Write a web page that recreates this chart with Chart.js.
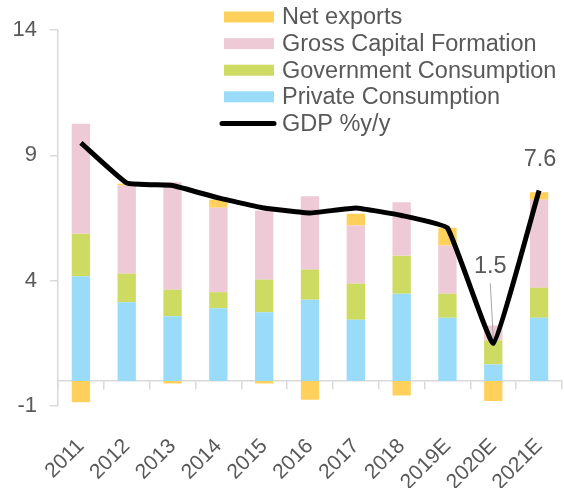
<!DOCTYPE html>
<html>
<head>
<meta charset="utf-8">
<script src="https://cdn.jsdelivr.net/npm/chart.js@4.4.1/dist/chart.umd.min.js"></script>
<style>
  html, body { margin: 0; padding: 0; background: #fff; }
  #wrap { width: 564px; height: 488px; }
</style>
</head>
<body>
<div id="wrap"><canvas id="gdp"></canvas></div>
<script>
// contributions to GDP growth, percentage points
const years = ['2011', '2012', '2013', '2014', '2015', '2016', '2017', '2018', '2019E', '2020E', '2021E'];
const privateCons = [4.18, 3.14, 2.58, 2.90, 2.74, 3.24, 2.44, 3.48, 2.52, 0.66, 2.52];
const govCons = [1.69, 1.14, 1.06, 0.64, 1.30, 1.20, 1.44, 1.51, 0.96, 0.96, 1.20];
const capForm = [4.39, 3.52, 4.29, 3.37, 2.76, 2.93, 2.32, 2.14, 1.92, 0.59, 3.51];
const netExports = [-0.85, 0.07, -0.10, 0.32, -0.10, -0.75, 0.47, -0.58, 0.71, -0.80, 0.30];
const gdp = [9.5, 7.9, 7.8, 7.3, 6.9, 6.7, 6.9, 6.6, 6.1, 1.5, 7.6];
const yTicks = [-1, 4, 9, 14];
const labelledPoints = [9, 10];

const textGrey = '#595959';
const axisGrey = '#d9d9d9';
Chart.defaults.font.family = '"Liberation Sans", Arial, sans-serif';

// legend sits inside the plot, top right, bars listed top-down
const legendPlugin = {
  id: 'insideLegend',
  afterDraw(chart) {
    const ctx = chart.ctx;
    const sets = chart.data.datasets;
    const items = sets.filter(d => d.type !== 'line').reverse()
      .concat(sets.filter(d => d.type === 'line'));
    const x = 224, top = 17, row = 26.6, w = 50, h = 11;
    ctx.save();
    ctx.font = '23.5px "Liberation Sans", Arial, sans-serif';
    ctx.textBaseline = 'middle';
    items.forEach((d, i) => {
      const cy = top + i * row;
      if (d.type === 'line') {
        ctx.strokeStyle = d.borderColor;
        ctx.lineWidth = 5;
        ctx.lineCap = 'round';
        ctx.beginPath();
        ctx.moveTo(x - 2, cy);
        ctx.lineTo(x + w, cy);
        ctx.stroke();
      } else {
        ctx.fillStyle = d.backgroundColor;
        ctx.fillRect(x, cy - h / 2, w, h);
      }
      ctx.fillStyle = textGrey;
      ctx.fillText(d.label, x + w + 8, cy + 1);
    });
    ctx.restore();
  }
};

// value labels on the last two GDP points, 2020E pulled up with a leader line
const pointLabelPlugin = {
  id: 'gdpLabels',
  afterDatasetsDraw(chart) {
    const ctx = chart.ctx;
    const idx = chart.data.datasets.findIndex(d => d.type === 'line');
    const meta = chart.getDatasetMeta(idx);
    ctx.save();
    ctx.font = '23.5px "Liberation Sans", Arial, sans-serif';
    ctx.textAlign = 'center';
    ctx.textBaseline = 'middle';
    labelledPoints.forEach(i => {
      const pt = meta.data[i];
      const lifted = i === 9;
      const tx = pt.x + (lifted ? -3 : 1);
      const ty = pt.y + (lifted ? -77 : -31);
      if (lifted) {
        ctx.strokeStyle = '#a6a6a6';
        ctx.lineWidth = 1;
        ctx.beginPath();
        ctx.moveTo(tx, ty + 17);
        ctx.lineTo(pt.x, pt.y - 5);
        ctx.stroke();
      }
      ctx.fillStyle = textGrey;
      ctx.fillText(gdp[i].toFixed(1), tx, ty);
    });
    ctx.restore();
  }
};

const cfg = {
  type: 'bar',
  data: {
    labels: years,
    datasets: [
      { type: 'line', label: 'GDP %y/y', data: gdp, borderColor: '#000000', borderWidth: 5,
        pointRadius: 0, tension: 0.1, order: 0, stack: 'gdp' },
      { label: 'Private Consumption', data: privateCons, backgroundColor: '#99dbf8', order: 1 },
      { label: 'Government Consumption', data: govCons, backgroundColor: '#cddb63', order: 1 },
      { label: 'Gross Capital Formation', data: capForm, backgroundColor: '#edcad6', order: 1 },
      { label: 'Net exports', data: netExports, backgroundColor: '#ffd05c', order: 1 },
    ],
  },
  options: {
    responsive: true,
    maintainAspectRatio: false,
    animation: false,
    barPercentage: 0.4,
    categoryPercentage: 1,
    layout: { padding: { top: 30, right: 2, left: 0, bottom: 82 } },
    plugins: { legend: { display: false }, tooltip: { enabled: false } },
    scales: {
      x: {
        stacked: true,
        position: { y: 0 },
        afterFit: (s) => { s.paddingLeft = 0; s.paddingRight = 0; },
        grid: { offset: true, drawOnChartArea: false, tickLength: 8, color: axisGrey, lineWidth: 1.5 },
        border: { color: axisGrey, width: 1.5 },
        ticks: { color: textGrey, font: { size: 21 }, minRotation: 45, maxRotation: 45, autoSkip: false, padding: 45 },
      },
      y: {
        stacked: true,
        min: -1,
        max: 14,
        afterFit: (s) => { s.width = 58; },
        afterBuildTicks: (s) => { s.ticks = yTicks.map(v => ({ value: v })); },
        grid: { drawOnChartArea: false, tickLength: 8, color: axisGrey, lineWidth: 1.5 },
        border: { color: axisGrey, width: 1.5 },
        ticks: { color: textGrey, font: { size: 22 }, padding: 13 },
      },
    },
  },
  plugins: [legendPlugin, pointLabelPlugin],
};

window.gdpChart = new Chart(document.getElementById('gdp'), cfg);
</script>
</body>
</html>
